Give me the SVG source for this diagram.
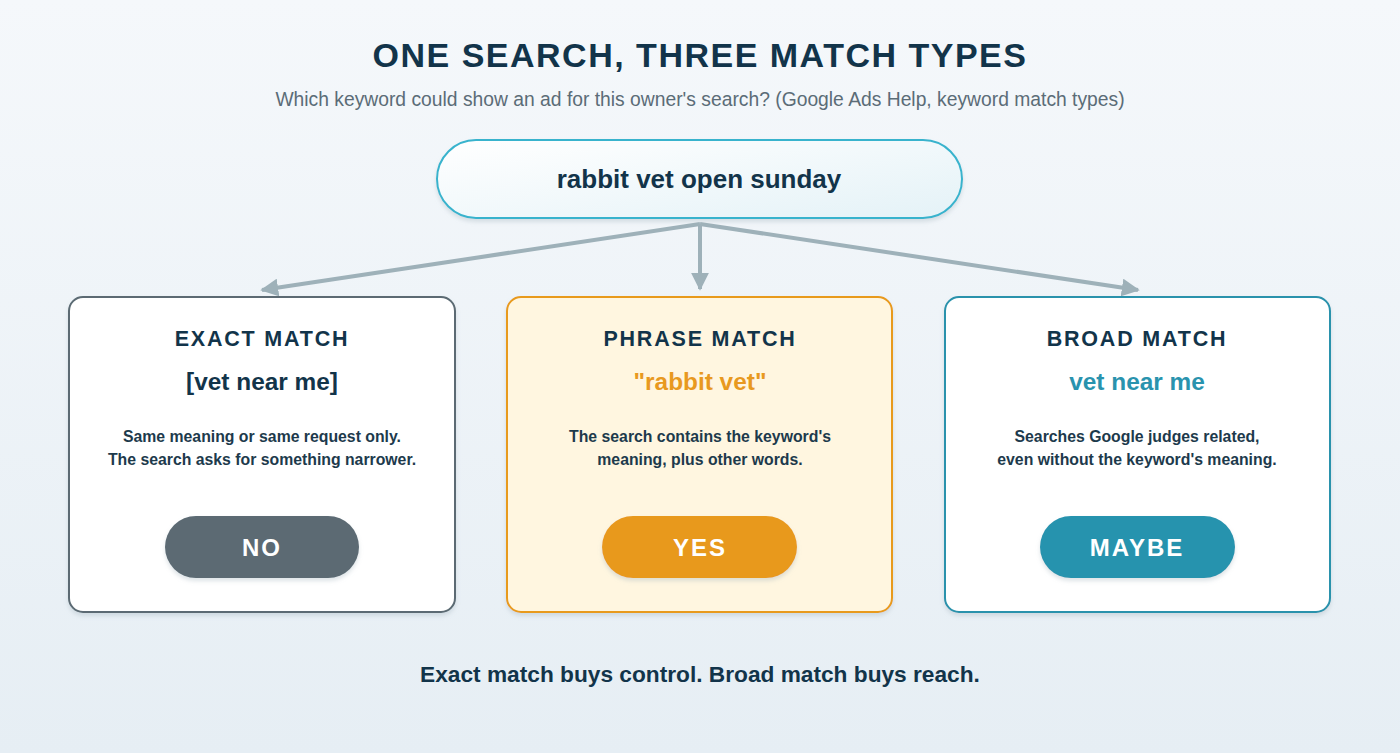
<svg xmlns="http://www.w3.org/2000/svg" width="1400" height="753" viewBox="0 0 1400 753">
<defs>
<linearGradient id="bg" x1="0" y1="0" x2="0" y2="1">
<stop offset="0" stop-color="#f5f8fb"/>
<stop offset="1" stop-color="#e6eef4"/>
</linearGradient>
<linearGradient id="pill" x1="0" y1="0" x2="1" y2="1">
<stop offset="0" stop-color="#ffffff"/>
<stop offset="1" stop-color="#e4f2f7"/>
</linearGradient>
<filter id="sh" x="-10%" y="-10%" width="120%" height="130%">
<feDropShadow dx="0" dy="3" stdDeviation="2" flood-color="#9fb0bb" flood-opacity="0.35"/>
</filter>
<marker id="ah" viewBox="0 0 10 10" refX="9" refY="5" markerWidth="4.5" markerHeight="4.5" orient="auto" markerUnits="strokeWidth">
<path d="M0,0 L10,5 L0,10 z" fill="#9eb1b9"/>
</marker>
<style>
text{font-family:"Liberation Sans",Arial,sans-serif;font-weight:bold;text-anchor:middle;}
.title{font-size:34px;fill:#12344a;letter-spacing:1.5px;}
.sub{font-size:19.3px;font-weight:normal;fill:#5b6c77;}
.ct{font-size:21.5px;fill:#12344a;letter-spacing:1.8px;}
.kw{font-size:24.4px;}
.desc{font-size:15.8px;fill:#1d3a4c;}
.btn{font-size:24px;fill:#ffffff;letter-spacing:2px;}
.conn{stroke:#9eb1b9;stroke-width:4;fill:none;}
</style>
</defs>
<rect width="1400" height="753" fill="url(#bg)"/>
<text class="title" x="700" y="67">ONE SEARCH, THREE MATCH TYPES</text>
<text class="sub" x="700" y="106">Which keyword could show an ad for this owner's search? (Google Ads Help, keyword match types)</text>

<g id="connectors">
<line class="conn" x1="700" y1="224" x2="262" y2="290" marker-end="url(#ah)"/>
<line class="conn" x1="700" y1="224" x2="700" y2="289" marker-end="url(#ah)"/>
<line class="conn" x1="700" y1="224" x2="1138" y2="290" marker-end="url(#ah)"/>
</g>

<g id="search">
<rect x="437" y="140" width="525" height="78" rx="39" fill="url(#pill)" stroke="#38b3cd" stroke-width="2" filter="url(#sh)"/>
<text x="699" y="188" font-size="26" fill="#12344a">rabbit vet open sunday</text>
</g>

<g id="exact">
<rect x="69" y="297" width="386" height="315" rx="14" fill="#ffffff" stroke="#5b6b73" stroke-width="2" filter="url(#sh)"/>
<text class="ct" x="262" y="346">EXACT MATCH</text>
<text class="kw" x="262" y="390" fill="#12344a">[vet near me]</text>
<text class="desc" x="262" y="442">Same meaning or same request only.</text>
<text class="desc" x="262" y="465">The search asks for something narrower.</text>
<rect x="165" y="516" width="194" height="62" rx="31" fill="#5b6a73" filter="url(#sh)"/>
<text class="btn" x="262" y="556">NO</text>
</g>

<g id="phrase">
<rect x="507" y="297" width="385" height="315" rx="14" fill="#fff6e0" stroke="#e89a1f" stroke-width="2" filter="url(#sh)"/>
<text class="ct" x="700" y="346">PHRASE MATCH</text>
<text class="kw" x="700" y="390" fill="#e8991f">"rabbit vet"</text>
<text class="desc" x="700" y="442">The search contains the keyword's</text>
<text class="desc" x="700" y="465">meaning, plus other words.</text>
<rect x="602" y="516" width="195" height="62" rx="31" fill="#e8991f" filter="url(#sh)"/>
<text class="btn" x="700" y="556">YES</text>
</g>

<g id="broad">
<rect x="945" y="297" width="385" height="315" rx="14" fill="#ffffff" stroke="#2992ac" stroke-width="2" filter="url(#sh)"/>
<text class="ct" x="1137" y="346">BROAD MATCH</text>
<text class="kw" x="1137" y="390" fill="#2993ae">vet near me</text>
<text class="desc" x="1137" y="442">Searches Google judges related,</text>
<text class="desc" x="1137" y="465">even without the keyword's meaning.</text>
<rect x="1040" y="516" width="195" height="62" rx="31" fill="#2893ae" filter="url(#sh)"/>
<text class="btn" x="1137" y="556">MAYBE</text>
</g>

<text x="700" y="682" font-size="22.7" fill="#12344a">Exact match buys control. Broad match buys reach.</text>
</svg>
